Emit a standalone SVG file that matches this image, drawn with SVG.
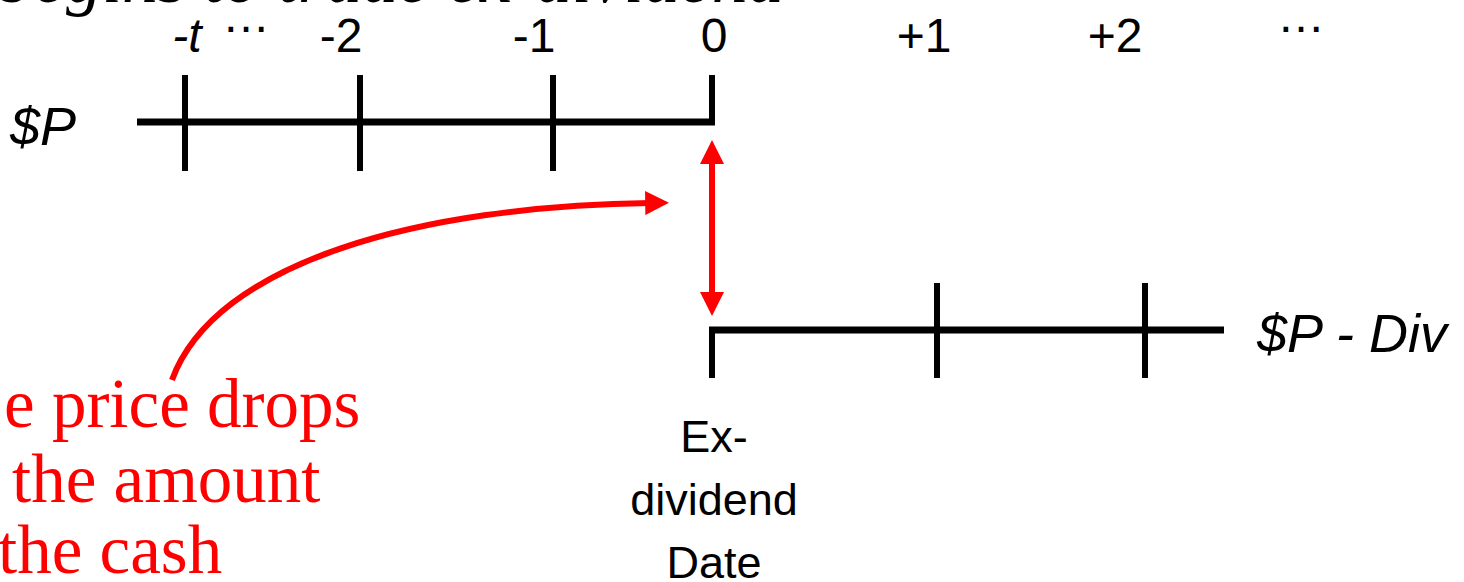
<svg xmlns="http://www.w3.org/2000/svg" width="1464" height="582" viewBox="0 0 1464 582">
<defs>
<style>
.ln{stroke:#000;stroke-width:7;fill:none;stroke-linecap:butt}
.tk{stroke:#000;stroke-width:6;fill:none}
.red{stroke:#ff0000;stroke-width:6;fill:none}
.lab{font-family:"Liberation Sans",Arial,sans-serif;font-size:48px;fill:#000;text-anchor:middle}
.it{font-family:"Liberation Sans",Arial,sans-serif;font-style:italic;fill:#000}
.rt{font-family:"Liberation Serif","Times New Roman",serif;font-size:69px;fill:#ff0000}
.sm{font-family:"Liberation Sans",Arial,sans-serif;font-size:45px;fill:#000;text-anchor:middle}
.ttl{font-family:"Liberation Serif","Times New Roman",serif;font-style:italic;font-size:72px;fill:#000}
</style>
<marker id="ah" viewBox="0 0 10 10" refX="2" refY="5" markerWidth="4" markerHeight="4" orient="auto" markerUnits="strokeWidth">
<path d="M0,0 L10,5 L0,10 Z" fill="#ff0000"/>
</marker>
</defs>
<rect width="1464" height="582" fill="#fff"/>
<g id="title">
<text class="ttl" x="-2" y="2">begins to trade ex-dividend</text>
</g>
<g id="labels">
<text class="lab" x="187" y="52"><tspan font-style="italic">-t</tspan></text>
<text class="lab" x="246" y="32" font-size="24">…</text>
<text class="lab" x="341" y="52">-2</text>
<text class="lab" x="534" y="52">-1</text>
<text class="lab" x="714" y="52">0</text>
<text class="lab" x="924" y="52">+1</text>
<text class="lab" x="1115" y="52">+2</text>
<text class="lab" x="1301" y="32" font-size="24">…</text>
</g>
<g id="timeline-before">
<text class="it" x="10" y="145" font-size="54">$P</text>
<line class="ln" x1="137" y1="122" x2="715" y2="122"/>
<line class="tk" x1="185" y1="75" x2="185" y2="171"/>
<line class="tk" x1="360" y1="75" x2="360" y2="171"/>
<line class="tk" x1="553" y1="75" x2="553" y2="171"/>
<line class="tk" x1="712" y1="75" x2="712" y2="125"/>
</g>
<g id="timeline-after">
<line class="ln" x1="709" y1="330" x2="1224" y2="330"/>
<line class="tk" x1="712" y1="327" x2="712" y2="378"/>
<line class="tk" x1="937" y1="283" x2="937" y2="378"/>
<line class="tk" x1="1145" y1="283" x2="1145" y2="378"/>
<text class="it" x="1257" y="352" font-size="54">$P - Div</text>
</g>
<g id="exdate">
<text class="sm" x="714" y="452">Ex-</text>
<text class="sm" x="714" y="515">dividend</text>
<text class="sm" x="714" y="578">Date</text>
</g>
<g id="note">
<text class="rt" x="4" y="427">e price drops</text>
<text class="rt" x="12" y="502">the amount</text>
<text class="rt" x="-2" y="573">the cash</text>
</g>
<g id="connectors">
<line x1="712" y1="160" x2="712" y2="296" stroke="#ff0000" stroke-width="6"/>
<path d="M712,140 L724,164 L700,164 Z" fill="#ff0000"/>
<path d="M712,316 L724,292 L700,292 Z" fill="#ff0000"/>
<path class="red" d="M172,380 C215,262 420,206 650,203" marker-end="url(#ah)"/>
</g>
</svg>
